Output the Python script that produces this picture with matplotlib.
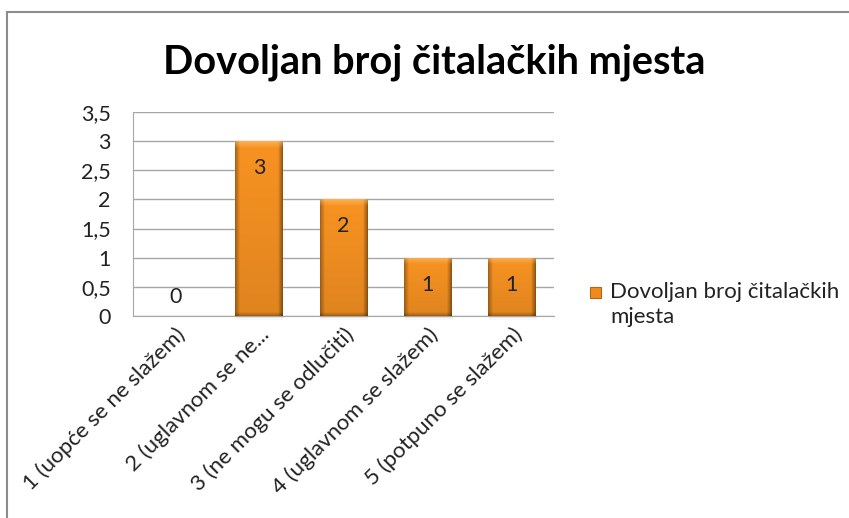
import numpy as np
import matplotlib
matplotlib.use("Agg")
import matplotlib.pyplot as plt
from matplotlib.patches import Rectangle
from matplotlib.lines import Line2D

title = "Dovoljan broj čitalačkih mjesta"
series_name = "Dovoljan broj čitalačkih\nmjesta"
categories = [
    "1 (uopće se ne slažem)",
    "2 (uglavnom se ne...",
    "3 (ne mogu se odlučiti)",
    "4 (uglavnom se slažem)",
    "5 (potpuno se slažem)",
]
values = [0, 3, 2, 1, 1]
yticks = [0, 0.5, 1, 1.5, 2, 2.5, 3, 3.5]
ytick_labels = ["0", "0,5", "1", "1,5", "2", "2,5", "3", "3,5"]

FONT = "Lato"
TXT = "#222222"
W, H = 849, 518
fig = plt.figure(figsize=(W / 100, H / 100), dpi=100)
fig.patch.set_facecolor("white")

# chart frame (top and left edges)
fig.add_artist(Line2D([7 / W, 1.0], [1 - 12 / H, 1 - 12 / H], transform=fig.transFigure,
                      color="#8c8c8c", linewidth=1.5))
fig.add_artist(Line2D([7 / W, 7 / W], [0, 1 - 12 / H], transform=fig.transFigure,
                      color="#8c8c8c", linewidth=1.5))

ax = fig.add_axes([133 / W, 1 - 316 / H, (554 - 133) / W, (316 - 112) / H])
ax.set_xlim(-0.5, len(categories) - 0.5)
ax.set_ylim(0, 3.5)
ax.set_yticks(yticks)
ax.set_yticklabels(ytick_labels, fontsize=15.5, family=FONT, color=TXT)
ax.tick_params(axis="y", length=0, pad=16)
ax.tick_params(axis="x", length=0, pad=6)
ax.set_xticks(range(len(categories)))
ax.set_xticklabels(categories, rotation=45, ha="right", rotation_mode="anchor",
                   fontsize=16, family=FONT, color=TXT)
ax.grid(axis="y", color="#a6a6a6", linewidth=1.0)
ax.set_axisbelow(True)
for s in ["top", "right"]:
    ax.spines[s].set_visible(False)
ax.spines["left"].set_color("#a6a6a6")
ax.spines["bottom"].set_color("#a6a6a6")

# orange bevelled bars
bar_w = 0.57
bars = ax.bar(range(len(values)), values, width=bar_w, color="#f7941e",
              edgecolor="none", zorder=3)
px_per_unit = (316 - 112) / 3.5
bar_px = bar_w * (554 - 133) / len(categories)
for rect, v in zip(bars, values):
    if v <= 0:
        continue
    x0, w = rect.get_x(), rect.get_width()
    # soft drop shadow under the bar
    for k, a in enumerate([0.10, 0.06, 0.03]):
        ax.add_patch(Rectangle((x0 + 0.01, -(k + 1) * 1.2 / px_per_unit), w,
                               (k + 1) * 1.2 / px_per_unit, facecolor="black",
                               alpha=a, edgecolor="none", zorder=2, clip_on=False))
    hpx = v * px_per_unit
    nx, ny = int(bar_px * 2), int(hpx * 2)
    xs = (np.arange(nx) + 0.5) / nx * bar_px
    ys = (np.arange(ny) + 0.5) / ny * hpx
    X, Y = np.meshgrid(xs, ys)
    base = np.array([0.973, 0.576, 0.133])
    img = np.tile(base, (ny, nx, 1))
    img *= (0.90 + 0.10 * (Y / hpx))[..., None]
    dl = np.clip(1 - X / 5.0, 0, 1)
    dr = np.clip(1 - (bar_px - X) / 5.0, 0, 1)
    edge = np.maximum(dl * 0.35, dr * 0.45)
    img *= (1 - edge)[..., None]
    dt = np.clip(1 - (hpx - Y) / 7.0, 0, 1)
    light = np.array([1.0, 0.80, 0.50])
    img = img * (1 - 0.55 * dt[..., None]) + light * 0.55 * dt[..., None]
    db = np.clip(1 - Y / 4.0, 0, 1)
    img *= (1 - 0.3 * db)[..., None]
    img = np.clip(img, 0, 1)
    im = ax.imshow(img, extent=[x0, x0 + w, 0, v], origin="lower",
                   aspect="auto", zorder=3, interpolation="bilinear")
    im.set_clip_path(rect)
    ax.text(rect.get_x() + w / 2, v - 0.46, f"{v}", ha="center", va="center",
            fontsize=15.5, family=FONT, color=TXT, zorder=5)
ax.set_xlim(-0.5, len(categories) - 0.5)
ax.set_ylim(0, 3.5)
for i, v in enumerate(values):
    if v == 0:
        ax.text(i, 0.33, f"{v}", ha="center", va="center",
                fontsize=15.5, family=FONT, color=TXT, zorder=5)

fig.text(434 / W, 1 - 62 / H, title, ha="center", va="center",
         fontsize=28.6, family=FONT, fontweight="bold", color="#000000")

# legend
fig.patches.append(Rectangle((590 / W, 1 - 298 / H), 11 / W, 11 / H,
                             transform=fig.transFigure, facecolor="#f08c1e",
                             edgecolor="#b8621a", linewidth=0.8))
fig.text(610 / W, 1 - 282 / H, series_name, ha="left", va="top",
         fontsize=16, family=FONT, color=TXT, linespacing=1.33)

fig.savefig("out.png", dpi=100, facecolor="white")
